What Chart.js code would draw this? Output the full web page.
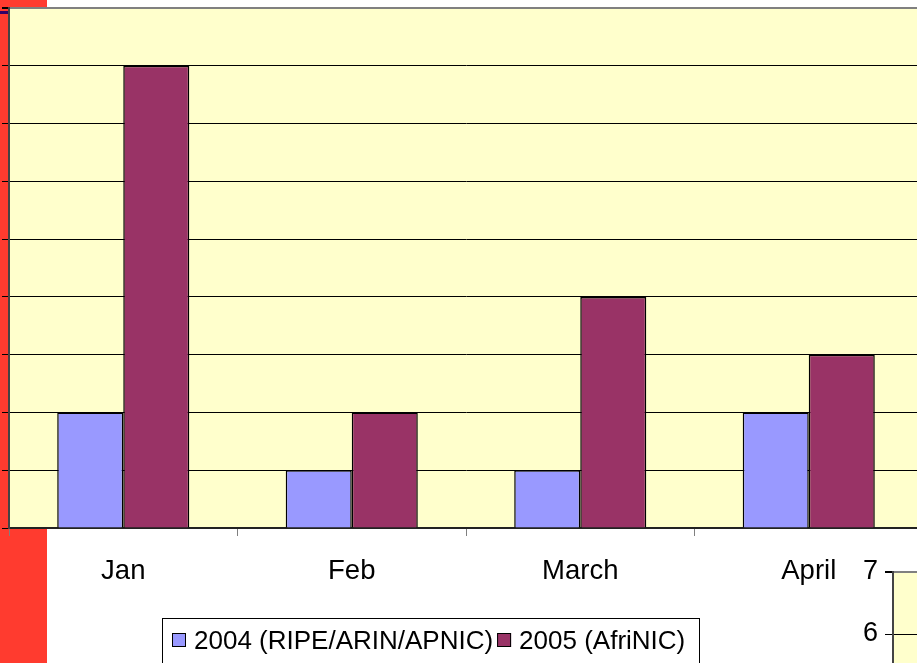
<!DOCTYPE html>
<html>
<head>
<meta charset="utf-8">
<script src="https://cdn.jsdelivr.net/npm/chart.js@4.4.1/dist/chart.umd.min.js"></script>
<style>
  html, body { margin: 0; padding: 0; background: #fff; }
  body { width: 917px; height: 663px; overflow: hidden; position: relative; }
  #redBand { position: absolute; left: 0; top: 0; width: 47px; height: 663px; background: #ff3b2f; }
  #mark { position: absolute; left: 0; top: 11px; width: 8px; height: 3px; background: #330066; }
  #mainChart { position: absolute; left: 0; top: 0; }
  #sideChart { position: absolute; left: 840px; top: 555px; }
</style>
</head>
<body>
<div id="redBand"></div>
<canvas id="mainChart" width="923" height="663"></canvas>
<canvas id="sideChart" width="77" height="141"></canvas>
<div id="mark"></div>
<script>
const months = ["Jan", "Feb", "March", "April"];
const values2004 = [2, 1, 1, 2];
const values2005 = [8, 2, 4, 3];
const seriesNames = ["2004 (RIPE/ARIN/APNIC)", "2005 (AfriNIC)"];
const seriesColors = ["#9999ff", "#993366"];
const yMax = 9;
const sideMin = 5;
const sideMax = 7;

const font = "'Liberation Sans', Arial, sans-serif";

// yellow plot background
const plotBg = {
  id: "plotBg",
  beforeDraw(chart) {
    const a = chart.chartArea;
    const ctx = chart.ctx;
    ctx.save();
    ctx.fillStyle = "#ffffcc";
    ctx.fillRect(a.left, a.top, a.right - a.left, a.bottom - a.top);
    ctx.restore();
  }
};

// excel-style boxed legend, placed like the original
const boxLegend = {
  id: "boxLegend",
  afterDraw(chart) {
    const ctx = chart.ctx;
    ctx.save();
    ctx.fillStyle = "#fff";
    ctx.fillRect(162, 618, 537, 60);
    ctx.strokeStyle = "#000";
    ctx.lineWidth = 1;
    ctx.strokeRect(162.5, 618.5, 537, 60);
    ctx.font = "26px " + font;
    ctx.textBaseline = "alphabetic";
    let x = 172;
    chart.data.datasets.forEach(ds => {
      ctx.fillStyle = ds.backgroundColor;
      ctx.fillRect(x, 633, 14, 14);
      ctx.strokeStyle = "#000";
      ctx.strokeRect(x + 0.5, 633.5, 13, 13);
      ctx.fillStyle = "#000";
      ctx.fillText(ds.label, x + 22, 649);
      x += 22 + ctx.measureText(ds.label).width + 4;
    });
    ctx.restore();
  }
};

new Chart(document.getElementById("mainChart"), {
  type: "bar",
  data: {
    labels: months,
    datasets: [
      { label: seriesNames[0], data: values2004, backgroundColor: seriesColors[0], borderColor: "#000", borderWidth: 1.5 },
      { label: seriesNames[1], data: values2005, backgroundColor: seriesColors[1], borderColor: "#000", borderWidth: 1.5 }
    ]
  },
  options: {
    responsive: false,
    animation: false,
    layout: { padding: { top: 8, left: 0, right: 0, bottom: 0 } },
    datasets: { bar: { categoryPercentage: 0.578, barPercentage: 1 } },
    plugins: { legend: { display: false }, tooltip: { enabled: false } },
    scales: {
      x: {
        afterFit(scale) { scale.height = 135; },
        grid: { drawOnChartArea: false, drawTicks: true, tickLength: 8, tickColor: "#808080", offset: true },
        border: { color: "#222", width: 2 },
        ticks: { color: "#000", font: { family: font, size: 27.5 }, padding: 19, maxRotation: 0 }
      },
      y: {
        min: 0,
        max: yMax,
        afterFit(scale) { scale.width = 9; },
        ticks: { display: false, stepSize: 1 },
        grid: {
          color: c => c.tick.value === yMax ? "#808080" : "#000",
          lineWidth: c => c.tick.value === yMax ? 2 : 1,
          tickLength: 7,
          tickColor: "#000"
        },
        border: { color: "#444", width: 2 }
      }
    }
  },
  plugins: [plotBg, boxLegend]
});

// fragment of the neighbouring chart at the bottom right
new Chart(document.getElementById("sideChart"), {
  type: "bar",
  data: { labels: [""], datasets: [] },
  options: {
    responsive: false,
    animation: false,
    layout: { padding: { top: 17, left: 0, right: 0, bottom: 0 } },
    plugins: { legend: { display: false }, tooltip: { enabled: false } },
    scales: {
      x: { display: false },
      y: {
        min: sideMin,
        max: sideMax,
        afterFit(scale) {
          scale.width = 53;
          scale.paddingTop = 0;
          scale.paddingBottom = 0;
        },
        ticks: { stepSize: 1, color: "#000", font: { family: font, size: 27 }, padding: 7 },
        grid: {
          color: c => c.tick.value === sideMax ? "#808080" : "#000",
          lineWidth: c => c.tick.value === sideMax ? 2 : 1,
          tickLength: 8,
          tickColor: "#000"
        },
        border: { color: "#444", width: 2 }
      }
    }
  },
  plugins: [plotBg]
});
</script>
</body>
</html>
